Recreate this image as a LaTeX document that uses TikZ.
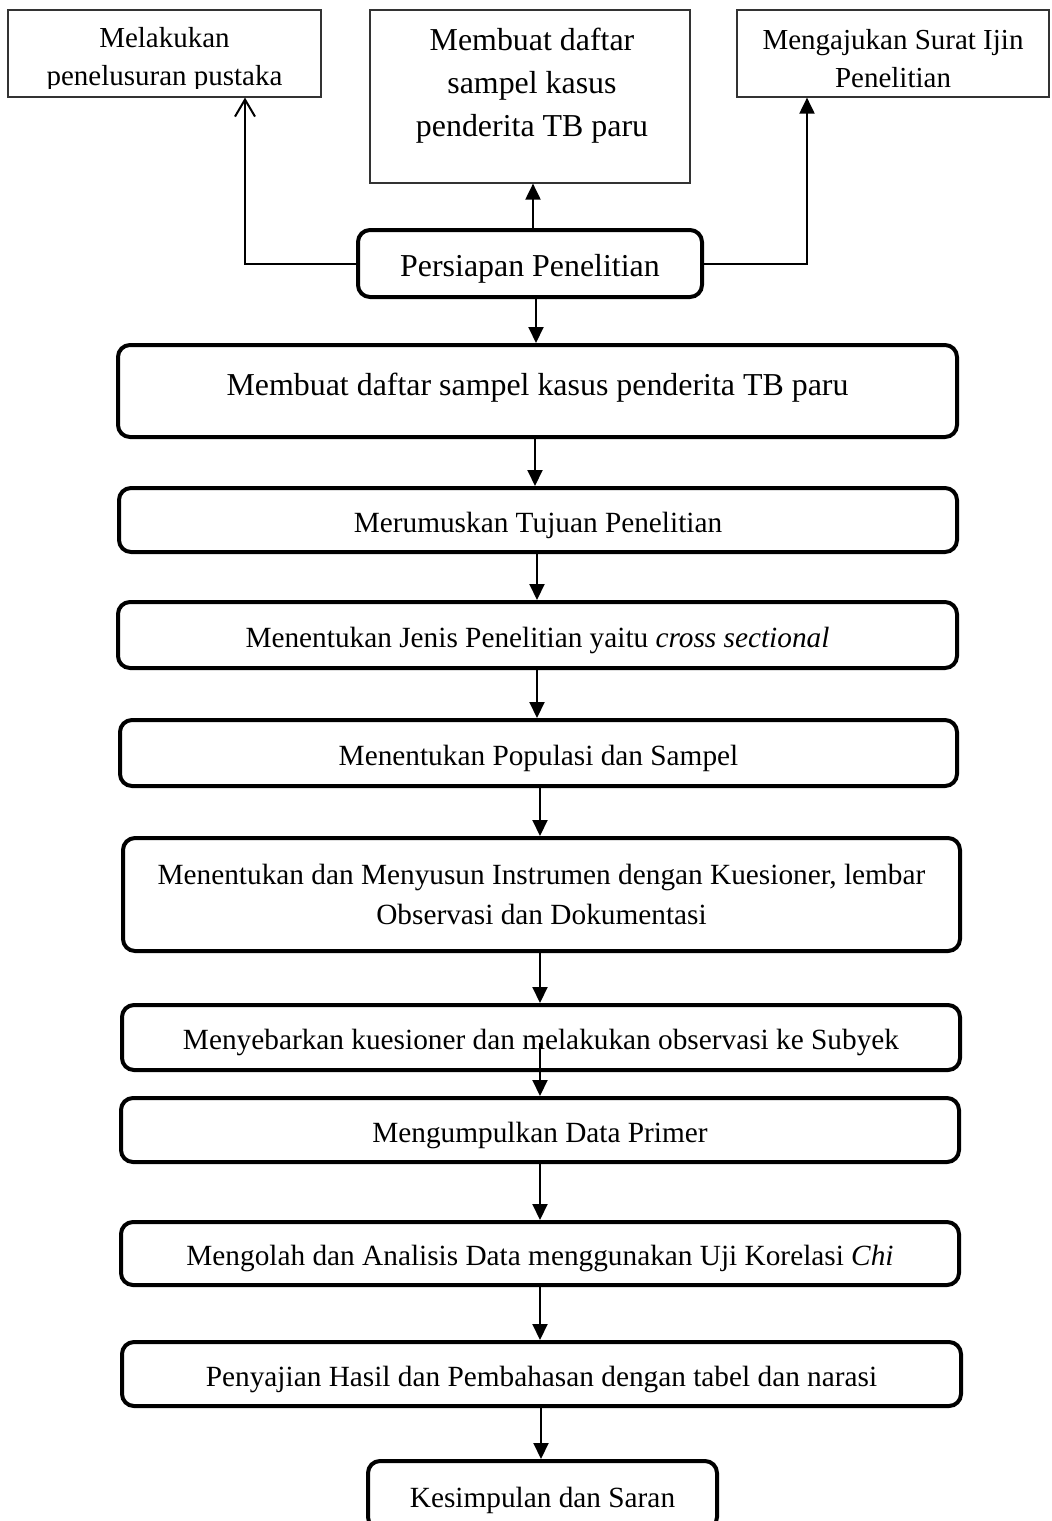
\documentclass[tikz,border=0pt]{standalone}
\usepackage{fontspec}
\setmainfont{Liberation Serif}
\usetikzlibrary{arrows.meta,calc}
\begin{document}
\begin{tikzpicture}[x=1pt,y=-1pt,
  thinbox/.style={draw=black!80, line width=1.2pt, inner sep=0pt},
  rbox/.style={draw, line width=4pt, rounded corners=12pt, inner sep=0pt},
  txt/.style={font=\fontsize{29.3}{40}\selectfont, align=center, inner sep=0pt},
  one/.style={text height=24.6pt, text depth=0pt},
  txtsm/.style={font=\fontsize{29}{38}\selectfont, align=center, inner sep=0pt},
  txtbig/.style={font=\fontsize{31.9}{43}\selectfont, align=center, inner sep=0pt},
  arr/.style={line width=2pt, -{Triangle[width=15pt,length=16pt]}},
  oarr/.style={line width=2pt, -{Straight Barb[width=20pt,length=17pt,line width=2pt]}},
]
\useasboundingbox (0,0) rectangle (1052,1521);
\clip (0,0) rectangle (1052,1521);

% top row
\node[thinbox, minimum width=313pt, minimum height=87pt] (TL) at (164.5,53.5) {};
\begin{scope}
  \clip (8,10) rectangle (321,88);
  \node[txtsm] (TLt) at (164.5,60) {Melakukan\\penelusuran pustaka};
\end{scope}
\node[thinbox, minimum width=320pt, minimum height=173pt] (TM) at (530,96.5) {};
\node[txtbig] (TMt) at (532,86) {Membuat daftar\\sampel kasus\\penderita TB paru};
\node[thinbox, minimum width=312pt, minimum height=87pt] (TR) at (893,53.5) {};
\node[txtsm] (TRt) at (893,59) {Mengajukan Surat Ijin\\Penelitian};

% persiapan
\node[rbox, txtbig, text height=26pt, text depth=0pt, minimum width=344pt, minimum height=67pt] (P) at (530,263.5) {Persiapan Penelitian};

% main flow
\node[rbox, txtbig, text depth=14pt, minimum width=839pt, minimum height=92pt] (B1) at (537.5,391) {Membuat daftar sampel kasus penderita TB paru};
\node[rbox, txt, one, minimum width=838pt, minimum height=64pt] (B2) at (538,520) {Merumuskan Tujuan Penelitian};
\node[rbox, txt, one, minimum width=839pt, minimum height=66pt] (B3) at (537.5,635) {Menentukan Jenis Penelitian yaitu \textit{cross sectional}};
\node[rbox, txt, one, minimum width=837pt, minimum height=66pt] (B4) at (538.5,753) {Menentukan Populasi dan Sampel};
\node[rbox, txt, minimum width=837pt, minimum height=113pt] (B5) at (541.5,894.5) {Menentukan dan Menyusun Instrumen dengan Kuesioner, lembar\\Observasi dan Dokumentasi};
\node[rbox, txt, one, minimum width=838pt, minimum height=65pt] (B6) at (541,1037.5) {Menyebarkan kuesioner dan melakukan observasi ke Subyek};
\node[rbox, txt, one, minimum width=838pt, minimum height=64pt] (B7) at (540,1130) {Mengumpulkan Data Primer};
\node[rbox, txt, one, minimum width=838pt, minimum height=63pt] (B8) at (540,1253.5) {Mengolah dan Analisis Data menggunakan Uji Korelasi \textit{Chi}};
\node[rbox, txt, one, minimum width=839pt, minimum height=64pt] (B9) at (541.5,1374) {Penyajian Hasil dan Pembahasan dengan tabel dan narasi};
\node[rbox, txt, one, minimum width=349pt, minimum height=68pt] (B10) at (542.5,1495) {Kesimpulan dan Saran};

% x positions of connectors
\coordinate (xl) at (245,0);
\coordinate (xm) at (533,0);
\coordinate (xr) at (807,0);
\coordinate (a1) at (536,0);
\coordinate (a2) at (535,0);
\coordinate (a3) at (537,0);
\coordinate (a4) at (540,0);
\coordinate (a5) at (541,0);
\coordinate (s6) at (540,1043);

% top connectors
\draw[oarr] (P.west) -| (TL.south -| xl);
\draw[arr] (P.north -| xm) -- (TM.south -| xm);
\draw[arr] (P.east) -| (TR.south -| xr);

% flow connectors
\draw[arr] (P.south -| a1) -- (B1.north -| a1);
\draw[arr] (B1.south -| a2) -- (B2.north -| a2);
\draw[arr] (B2.south -| a3) -- (B3.north -| a3);
\draw[arr] (B3.south -| a3) -- (B4.north -| a3);
\draw[arr] (B4.south -| a4) -- (B5.north -| a4);
\draw[arr] (B5.south -| a4) -- (B6.north -| a4);
\draw[arr] (s6) -- (B7.north -| s6);
\draw[arr] (B7.south -| a4) -- (B8.north -| a4);
\draw[arr] (B8.south -| a4) -- (B9.north -| a4);
\draw[arr] (B9.south -| a5) -- (B10.north -| a5);
\end{tikzpicture}
\end{document}
